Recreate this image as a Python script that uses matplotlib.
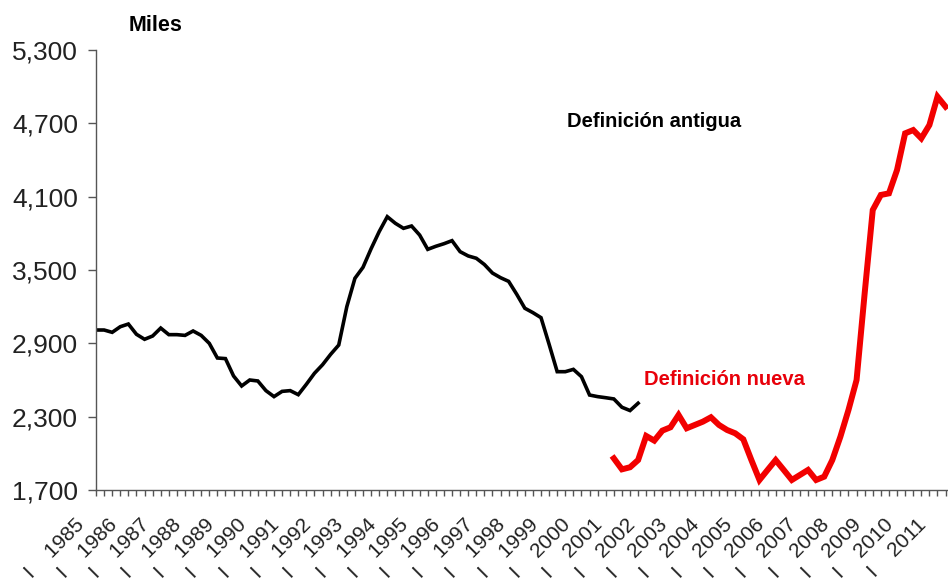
import numpy as np
import matplotlib
matplotlib.use("Agg")
import matplotlib.pyplot as plt
from matplotlib.ticker import FuncFormatter, MultipleLocator
from matplotlib.transforms import ScaledTranslation

# ---- data (quarterly, thousands) ----
years = list(range(1985, 2012))
start_year = 1985

old_def = [3009, 3009, 2990, 3036, 3058, 2974, 2933, 2960, 3025, 2971, 2971, 2965,
           3001, 2965, 2900, 2780, 2775, 2633, 2551, 2600, 2592, 2513, 2464, 2507,
           2513, 2480, 2565, 2655, 2725, 2810, 2886, 3200, 3432, 3522, 3674, 3814,
           3936, 3882, 3841, 3860, 3786, 3669, 3694, 3715, 3740, 3650, 3615, 3596,
           3545, 3475, 3437, 3407, 3301, 3187, 3151, 3110, 2892, 2668, 2668, 2687,
           2627, 2477, 2464, 2455, 2445, 2377, 2350, 2410]
old_start_q = 0   # 1985 Q1

new_def = [1959, 1869, 1886, 1945, 2142, 2104, 2186, 2213, 2314, 2205, 2232, 2259,
           2295, 2232, 2191, 2164, 2115, 1945, 1782, 1864, 1945, 1864, 1782, 1823,
           1864, 1782, 1809, 1945, 2136, 2355, 2600, 3309, 3991, 4114, 4127, 4318,
           4618, 4645, 4577, 4686, 4918, 4836]
new_start_q = 64  # 2001 Q1

y_ticks = [1700, 2300, 2900, 3500, 4100, 4700, 5300]
year_labels = [f"I    {y}" for y in years]

label_old = "Definición antigua"
label_new = "Definición nueva"
unit_label = "Miles"

# ---- figure ----
fig = plt.figure(figsize=(9.48, 5.80), dpi=100)
ax = fig.add_axes([96/948, 90/580, 1 - 96/948, 440/580])

x_old = np.arange(len(old_def)) + old_start_q
x_new = np.arange(len(new_def)) + new_start_q

ax.plot(x_old, old_def, color="black", lw=2.6, solid_joinstyle="miter")
ax.plot(x_new, new_def, color="#F20000", lw=4.3, solid_joinstyle="miter")

ax.set_xlim(0, 105.3)
ax.set_ylim(1700, 5300)

for s in ["top", "right"]:
    ax.spines[s].set_visible(False)
for s in ["left", "bottom"]:
    ax.spines[s].set_color("#555555")
    ax.spines[s].set_linewidth(1.0)

ax.set_yticks(y_ticks)
ax.yaxis.set_major_formatter(FuncFormatter(lambda v, p: f"{int(v):,}"))
ax.tick_params(axis="y", direction="out", length=5.5, width=1.0, color="#555555",
               labelsize=19, pad=7.5, labelcolor="#222222")
for lab in ax.get_yticklabels():
    lab.set_fontfamily("Liberation Sans")

major_pos = [(y - start_year) * 4 for y in years]
ax.set_xticks(major_pos)
ax.set_xticklabels(year_labels)
ax.xaxis.set_minor_locator(MultipleLocator(1))
ax.tick_params(axis="x", which="both", direction="out", length=4.6, width=1.0,
               color="#555555")
ax.tick_params(axis="x", which="major", pad=13.5, labelsize=15, labelcolor="#222222")
offset = ScaledTranslation(-21/100, 0, fig.dpi_scale_trans)
for lab in ax.get_xticklabels():
    lab.set_rotation(45)
    lab.set_ha("right")
    lab.set_va("top")
    lab.set_rotation_mode("anchor")
    lab.set_fontfamily("Liberation Sans")
    lab.set_transform(lab.get_transform() + offset)

ax.text(69.0, 4719, label_old, ha="center", va="center", fontsize=14.5,
        fontweight="bold", family="Liberation Sans", color="black")
ax.text(77.7, 2608, label_new, ha="center", va="center", fontsize=14.5,
        fontweight="bold", family="Liberation Sans", color="#E8000A")
ax.text(7.4, 5500, unit_label, ha="center", va="center", fontsize=15.5,
        fontweight="bold", family="Liberation Sans", color="black", clip_on=False)

fig.savefig("out.png", dpi=100)
